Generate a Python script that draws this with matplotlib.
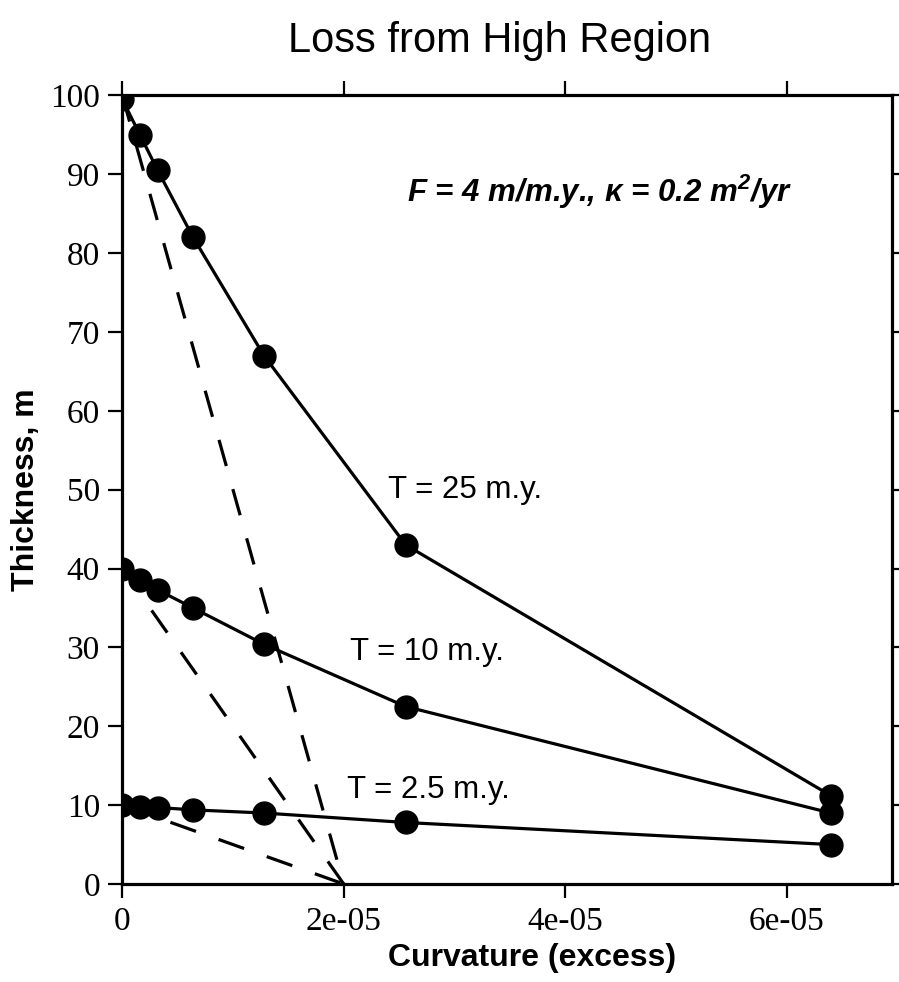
import matplotlib
matplotlib.use("Agg")
import matplotlib.pyplot as plt

# curvature values (excess) shared by all runs
curv = [0.0, 1.6e-6, 3.2e-6, 6.4e-6, 1.28e-5, 2.56e-5, 6.4e-5]
# thickness for each elapsed time
thick_25 = [99.5, 95.0, 90.5, 82.0, 67.0, 43.0, 11.2]
thick_10 = [40.0, 38.6, 37.3, 35.0, 30.4, 22.5, 9.0]
thick_2p5 = [10.0, 9.8, 9.7, 9.4, 9.0, 7.8, 5.0]
run_labels = ["T = 25 m.y.", "T = 10 m.y.", "T = 2.5 m.y."]
label_pos = [(2.40e-5, 49.0), (2.06e-5, 28.4), (2.03e-5, 10.9)]

# dashed lines: initial thickness falling to zero at critical curvature F/kappa
start_thick = [100.0, 40.0, 10.0]
crit_curv = 2e-5

xticks = [0, 2e-5, 4e-5, 6e-5]
xtick_labels = ["0", "2e-05", "4e-05", "6e-05"]
yticks = list(range(0, 101, 10))

serif = "Liberation Serif"
sans = "Liberation Sans"

# superscript in the parameter note uses the same bold italic face
plt.rcParams["mathtext.fontset"] = "custom"
plt.rcParams["mathtext.bf"] = "Liberation Sans:bold:italic"

fig = plt.figure(figsize=(8.99, 9.82), dpi=100)
ax = fig.add_axes([0.136, 0.0998, 0.856, 0.803])

# dashed reference lines
for h in start_thick:
    ax.plot([0, crit_curv], [h, 0], color="black", lw=2.3,
            linestyle=(0, (8.5, 7.5)))

# model curves
for y in [thick_25, thick_10, thick_2p5]:
    ax.plot(curv, y, color="black", lw=2.3, marker="o", markersize=16.5)

for txt, (x, y) in zip(run_labels, label_pos):
    ax.text(x, y, txt, fontsize=22.5, family=sans)

ax.text(2.57e-5, 86.5, "F = 4 m/m.y., \u03ba = 0.2 m$^{\\mathbf{2}}$/yr",
        fontsize=22.5, family=sans, fontweight="bold", fontstyle="italic")

ax.set_xlim(0, 6.95e-5)
ax.set_ylim(0, 100)
ax.set_xticks(xticks)
ax.set_xticklabels(xtick_labels)
ax.set_yticks(yticks)

for s in ax.spines.values():
    s.set_linewidth(2.3)

ax.tick_params(axis="both", which="major", direction="out", length=10,
               width=1.6, labelsize=24, pad=6)
ax.tick_params(top=True, right=True)
for t in ax.get_xticklabels() + ax.get_yticklabels():
    t.set_family(serif)

ax.set_xlabel("Curvature (excess)", fontsize=23, family=sans,
              fontweight="bold")
ax.xaxis.set_label_coords(0.532, -0.075)
ax.set_ylabel("Thickness, m", fontsize=23, family=sans, fontweight="bold")
ax.yaxis.set_label_coords(-0.105, 0.5)

fig.text(0.556, 0.947, "Loss from High Region", fontsize=30, family=sans,
         ha="center", va="baseline")

fig.savefig("out.png", dpi=100)
